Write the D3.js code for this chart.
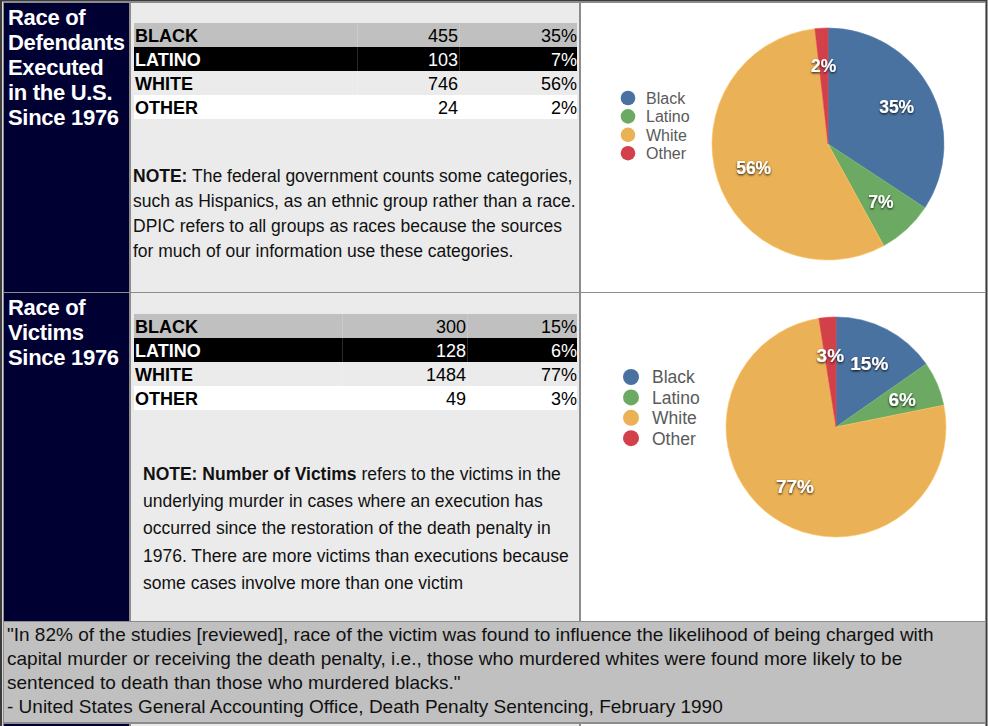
<!DOCTYPE html>
<html>
<head>
<meta charset="utf-8">
<script src="https://cdn.jsdelivr.net/npm/d3@7"></script>
<style>
  body { margin: 0; background: #fff; }
  svg { display: block; font-family: "Liberation Sans", Arial, Helvetica, sans-serif; }
</style>
</head>
<body>
<svg id="chart" width="988" height="726"></svg>
<script>
// data
const categories = ["BLACK", "LATINO", "WHITE", "OTHER"];
const legendLabels = ["Black", "Latino", "White", "Other"];
const defendantCounts = [455, 103, 746, 24];
const defendantPercents = ["35%", "7%", "56%", "2%"];
const victimCounts = [300, 128, 1484, 49];
const victimPercents = ["15%", "6%", "77%", "3%"];
const sliceColors = ["#4a72a0", "#6caa63", "#ebb157", "#d2404a"];

const defendantTitle = ["Race of", "Defendants", "Executed", "in the U.S.", "Since 1976"];
const victimTitle = ["Race of", "Victims", "Since 1976"];

const defendantNote = [
  [["NOTE:", true], [" The federal government counts some categories,", false]],
  [["such as Hispanics, as an ethnic group rather than a race.", false]],
  [["DPIC refers to all groups as races because the sources", false]],
  [["for much of our information use these categories.", false]]
];
const victimNote = [
  [["NOTE: Number of Victims", true], [" refers to the victims in the", false]],
  [["underlying murder in cases where an execution has", false]],
  [["occurred since the restoration of the death penalty in", false]],
  [["1976. There are more victims than executions because", false]],
  [["some cases involve more than one victim", false]]
];
const quoteLines = [
  "\"In 82% of the studies [reviewed], race of the victim was found to influence the likelihood of being charged with",
  "capital murder or receiving the death penalty, i.e., those who murdered whites were found more likely to be",
  "sentenced to death than those who murdered blacks.\"",
  "- United States General Accounting Office, Death Penalty Sentencing, February 1990"
];

const rowFills = ["#c0c0c0", "#000000", "#ebebeb", "#ffffff"];
const rowText = ["#000", "#fff", "#000", "#000"];

const svg = d3.select("#chart");

const defs = svg.append("defs");
defs.append("filter")
  .attr("id", "shadow")
  .attr("x", "-30%").attr("y", "-30%").attr("width", "160%").attr("height", "160%")
  .append("feDropShadow")
  .attr("dx", 0).attr("dy", 1.2)
  .attr("stdDeviation", 1.1)
  .attr("flood-color", "#000")
  .attr("flood-opacity", 0.85);

// --- table frame ---
function cell(x, y, w, h, fill) {
  svg.append("rect")
    .attr("x", x + 0.5).attr("y", y + 0.5)
    .attr("width", w).attr("height", h)
    .attr("fill", fill)
    .attr("stroke", "#8c8c8c")
    .attr("stroke-width", 1);
}

svg.append("rect").attr("x", 0).attr("y", 0).attr("width", 988).attr("height", 726).attr("fill", "#fff");
svg.append("rect")
  .attr("x", 1).attr("y", 0.5).attr("width", 985.5).attr("height", 730)
  .attr("fill", "#d8d8d8").attr("stroke", "#3c3c3c").attr("stroke-width", 2);

[[2, 290], [292, 329], [723, 10]].forEach(([y, h]) => {
  cell(3, y, 126, h, "#000033");
  cell(130, y, 449, h, "#ebebeb");
  cell(580, y, 405, h, "#ffffff");
});
cell(3, 621, 982, 101, "#c0c0c0");

// --- left titles ---
function title(lines, y0) {
  svg.append("g").selectAll("text")
    .data(lines).enter().append("text")
    .attr("x", 8)
    .attr("y", (d, i) => y0 + i * 25)
    .attr("fill", "#fff")
    .attr("font-size", "22px")
    .attr("font-weight", "bold")
    .attr("letter-spacing", "-0.3px")
    .text(d => d);
}
title(defendantTitle, 25);
title(victimTitle, 315);

// --- data tables ---
function drawTable(counts, percents, top, colNum, colPct) {
  const y = d3.scaleBand().domain(categories).range([top, top + 96]);
  const cols = [134, colNum, colPct, 577];
  const g = svg.append("g");
  const rows = g.selectAll("g").data(categories).enter().append("g")
    .attr("transform", d => `translate(0,${y(d)})`);

  rows.each(function (d, i) {
    const row = d3.select(this);
    for (let c = 0; c < 3; c++) {
      row.append("rect")
        .attr("x", cols[c]).attr("y", 0)
        .attr("width", cols[c + 1] - cols[c]).attr("height", y.bandwidth())
        .attr("fill", rowFills[i]);
      if (c > 0) {
        row.append("line")
          .attr("x1", cols[c] + 0.5).attr("x2", cols[c] + 0.5)
          .attr("y1", 0).attr("y2", y.bandwidth())
          .attr("stroke", "#fff").attr("stroke-opacity", 0.16);
      }
    }
    row.append("text")
      .attr("x", 135).attr("y", 18.5)
      .attr("font-size", "18px").attr("font-weight", "bold")
      .attr("fill", rowText[i])
      .text(d);
    row.append("text")
      .attr("x", colPct - 1).attr("y", 18.5)
      .attr("text-anchor", "end")
      .attr("font-size", "18px")
      .attr("fill", rowText[i])
      .text(counts[i]);
    row.append("text")
      .attr("x", 577).attr("y", 18.5)
      .attr("text-anchor", "end")
      .attr("font-size", "18px")
      .attr("fill", rowText[i])
      .text(percents[i]);
  });
}
drawTable(defendantCounts, defendantPercents, 23, 357, 459);
drawTable(victimCounts, victimPercents, 314, 342, 467);

// --- notes ---
function note(lines, x, y0, step) {
  const t = svg.append("g").selectAll("text")
    .data(lines).enter().append("text")
    .attr("x", x)
    .attr("y", (d, i) => y0 + i * step)
    .attr("font-size", "17.5px")
    .attr("fill", "#111");
  t.selectAll("tspan").data(d => d).enter().append("tspan")
    .attr("font-weight", d => d[1] ? "bold" : "normal")
    .text(d => d[0]);
}
note(defendantNote, 133, 182, 25);
note(victimNote, 143, 480, 27.2);

// --- pies ---
function drawPie(counts, percents, cx, cy, r, labelR, labelSize, legend) {
  const pie = d3.pie().sort(null).value(d => d);
  const arcs = pie(counts);
  const arc = d3.arc().innerRadius(0).outerRadius(r);
  const labelArc = d3.arc().innerRadius(labelR).outerRadius(labelR);
  const g = svg.append("g").attr("transform", `translate(${cx},${cy})`);

  g.selectAll("path").data(arcs).enter().append("path")
    .attr("d", arc)
    .attr("fill", (d, i) => sliceColors[i])
    .attr("stroke", (d, i) => d3.color(sliceColors[i]).brighter(0.3))
    .attr("stroke-width", 0.6);

  g.selectAll("text").data(arcs).enter().append("text")
    .attr("transform", d => `translate(${labelArc.centroid(d)})`)
    .attr("text-anchor", "middle")
    .attr("dy", "0.36em")
    .attr("font-size", labelSize)
    .attr("font-weight", "bold")
    .attr("fill", "#fff")
    .attr("filter", "url(#shadow)")
    .text((d, i) => percents[i]);

  const lg = svg.append("g").attr("transform", `translate(${legend.x},${legend.y})`);
  const items = lg.selectAll("g").data(legendLabels).enter().append("g")
    .attr("transform", (d, i) => `translate(0,${i * legend.step})`);
  items.append("circle")
    .attr("r", legend.r)
    .attr("fill", (d, i) => sliceColors[i]);
  items.append("text")
    .attr("x", legend.tx)
    .attr("dy", "0.36em")
    .attr("font-size", legend.size)
    .attr("fill", "#5a5a5a")
    .text(d => d);
}
drawPie(defendantCounts, defendantPercents, 828, 144, 116, 78, "17.5px",
  { x: 628, y: 98, step: 18.4, r: 7.3, tx: 18, size: "16px" });
drawPie(victimCounts, victimPercents, 836, 427, 110, 72, "19px",
  { x: 631, y: 377, step: 20.4, r: 8, tx: 21, size: "17.5px" });

// --- quote ---
svg.append("g").selectAll("text")
  .data(quoteLines).enter().append("text")
  .attr("x", 7)
  .attr("y", (d, i) => 641 + i * 24)
  .attr("font-size", "19px")
  .attr("fill", "#111")
  .text(d => d);
</script>
</body>
</html>
